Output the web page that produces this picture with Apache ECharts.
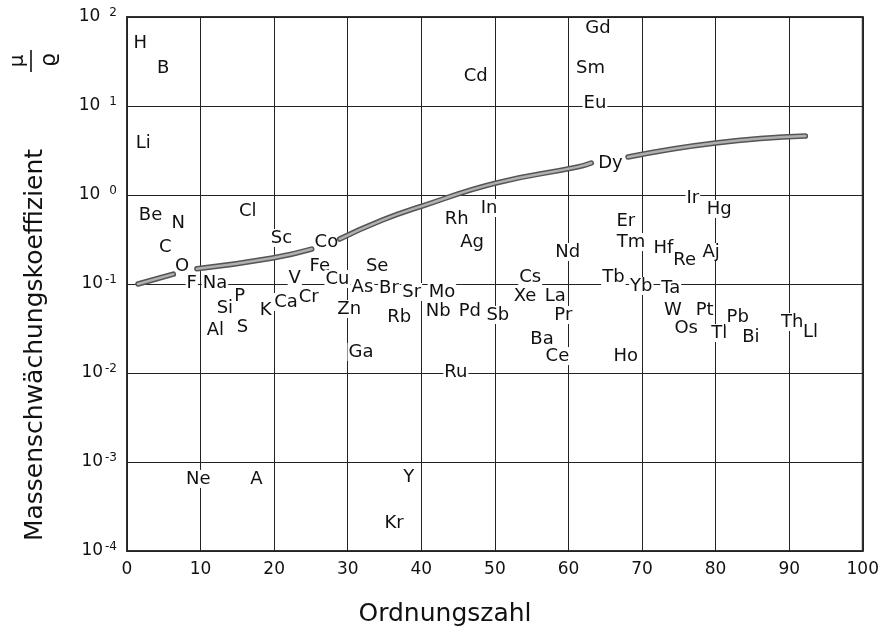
<!DOCTYPE html>
<html>
<head>
<meta charset="utf-8">
<script src="https://cdn.jsdelivr.net/npm/echarts@6/dist/echarts.min.js"></script>
<style>
  html, body { margin: 0; padding: 0; background: #fff; }
  #chart { width: 882px; height: 629px; }
</style>
</head>
<body>
<div id="chart"></div>
<script>
// Element symbols with their position on the Ordnungszahl axis and their mass attenuation value
const symbols = ['H', 'B', 'Li', 'Be', 'N', 'C', 'O', 'F', 'Na', 'P', 'Si', 'Al', 'S', 'K', 'Ca', 'Cr',
  'V', 'Fe', 'Cu', 'As', 'Se', 'Br', 'Zn', 'Ga', 'Cl', 'Sc', 'Co', 'Rh', 'In', 'Ag', 'Sr', 'Rb',
  'Mo', 'Nb', 'Pd', 'Sb', 'Cs', 'Xe', 'La', 'Pr', 'Ba', 'Ce', 'Nd', 'Ru', 'Er', 'Tm', 'Tb', 'Yb',
  'Ho', 'Hf', 'Ir', 'Hg', 'Re', 'Aj', 'Ta', 'W', 'Pt', 'Os', 'Tl', 'Pb', 'Bi', 'Th', 'Ll',
  'Gd', 'Sm', 'Eu', 'Dy', 'Cd', 'Ne', 'A', 'Y', 'Kr'];
const zPos = [1.8, 4.9, 2.2, 3.2, 6.95, 5.2, 7.5, 8.8, 11.95, 15.3, 13.3, 12.0, 15.7, 18.85, 21.6, 24.7,
  22.8, 26.2, 28.6, 32.0, 34.0, 35.6, 30.2, 31.8, 16.4, 21.0, 27.1, 44.8, 49.2, 46.9, 38.7, 37.0,
  42.8, 42.3, 46.6, 50.4, 54.8, 54.1, 58.2, 59.3, 56.4, 58.5, 59.9, 44.7, 67.8, 68.5, 66.1, 69.9,
  67.8, 72.9, 76.9, 80.5, 75.8, 79.4, 73.9, 74.2, 78.5, 76.0, 80.5, 83.0, 84.8, 90.4, 92.9,
  64.0, 63.0, 63.6, 65.7, 47.4, 9.7, 17.6, 38.3, 36.3];
const muValues = [51, 26.7, 3.84, 0.596, 0.484, 0.261, 0.159, 0.1026, 0.1026, 0.0733, 0.0537, 0.0304, 0.0329, 0.0511, 0.0628, 0.0715,
  0.1167, 0.159, 0.1138, 0.0925, 0.159, 0.0902, 0.0524, 0.0172, 0.66, 0.329, 0.296, 0.537, 0.714, 0.296, 0.0813, 0.0426,
  0.0813, 0.0498, 0.0498, 0.0449, 0.12, 0.0733, 0.0733, 0.0449, 0.0241, 0.0155, 0.229, 0.01026, 0.51, 0.296, 0.12, 0.095,
  0.0155, 0.2535, 0.925, 0.697, 0.186, 0.229, 0.0902, 0.0511, 0.0511, 0.0321, 0.0281, 0.0426, 0.0254, 0.0374, 0.0289,
  75.2, 26.7, 10.8, 2.29, 21.7, 6.46e-4, 6.46e-4, 6.78e-4, 2.07e-4];

// Trend curve; null marks a break where a label interrupts the line
const curveZ  = [1.5, 6.3, null, 9.5, 19.8, 25.1, null, 28.9, 34.7, 40.1, 50.1, 61.3, 63.1, null, 68.1, 80.0, 92.2];
const curveMu = [0.1, 0.129, null, 0.148, 0.196, 0.247, null, 0.32, 0.523, 0.75, 1.36, 2.07, 2.29, null, 2.67, 3.84, 4.6];

// Axis ticks
const xTicks = [0, 10, 20, 30, 40, 50, 60, 70, 80, 90, 100];
const yExponents = [-4, -3, -2, -1, 0, 1, 2];

const FONT = 'DejaVu Sans';
const INK = '#111';

// split the curve into segments at the null markers
const segments = [];
let cur = [];
curveZ.forEach((z, i) => {
  if (z === null) { if (cur.length) segments.push(cur); cur = []; }
  else cur.push([z, curveMu[i]]);
});
if (cur.length) segments.push(cur);

const curveSeries = [];
segments.forEach(seg => {
  curveSeries.push({
    type: 'line', data: seg, smooth: true, symbol: 'none', z: 5, silent: true,
    lineStyle: { color: '#555', width: 5.5, cap: 'round' }
  });
  curveSeries.push({
    type: 'line', data: seg, smooth: true, symbol: 'none', z: 6, silent: true,
    lineStyle: { color: '#b0b0b0', width: 2.5, cap: 'round' }
  });
});

const labelData = symbols.map((s, i) => [zPos[i], muValues[i], s]);

const chart = echarts.init(document.getElementById('chart'), null, { renderer: 'canvas' });
chart.setOption({
  animation: false,
  backgroundColor: '#fff',
  grid: {
    left: 127, right: 16, top: 17, bottom: 78,
    show: true, borderColor: '#333', borderWidth: 2, backgroundColor: 'transparent'
  },
  xAxis: {
    type: 'value', min: xTicks[0], max: xTicks[xTicks.length - 1], interval: 10,
    axisLine: { show: false }, axisTick: { show: false },
    splitLine: { show: true, lineStyle: { color: '#222', width: 1 } },
    axisLabel: { color: INK, fontFamily: FONT, fontSize: 17, margin: 10 }
  },
  yAxis: {
    type: 'log', logBase: 10,
    min: Math.pow(10, yExponents[0]), max: Math.pow(10, yExponents[yExponents.length - 1]),
    axisLine: { show: false }, axisTick: { show: false },
    splitLine: { show: true, lineStyle: { color: '#222', width: 1 } },
    axisLabel: {
      margin: 10,
      formatter: v => {
        const e = Math.round(Math.log10(v));
        return '{b|10}' + (e < 0 ? '{n|-' + Math.abs(e) + '}' : '{p|' + e + '}');
      },
      rich: {
        b: { color: INK, fontFamily: FONT, fontSize: 17 },
        n: { color: INK, fontFamily: FONT, fontSize: 12, padding: [0, 0, 9, 2] },
        p: { color: INK, fontFamily: FONT, fontSize: 12, padding: [0, 0, 9, 9] }
      }
    }
  },
  graphic: [
    {
      type: 'text', x: 35, y: 345, rotation: Math.PI / 2, z: 10,
      style: { text: 'Massenschwächungskoeffizient', font: '25px "DejaVu Sans"', fill: INK,
               textAlign: 'center', textVerticalAlign: 'middle' }
    },
    {
      type: 'text', x: 445, y: 614, z: 10,
      style: { text: 'Ordnungszahl', font: '25px "DejaVu Sans"', fill: INK,
               textAlign: 'center', textVerticalAlign: 'middle' }
    },
    {
      type: 'text', x: 18, y: 61, rotation: Math.PI / 2, z: 10,
      style: { text: 'μ', font: '20px "DejaVu Sans"', fill: INK,
               textAlign: 'center', textVerticalAlign: 'middle' }
    },
    {
      type: 'line', z: 10,
      shape: { x1: 31, y1: 50, x2: 31, y2: 72 },
      style: { stroke: INK, lineWidth: 1.6 }
    },
    {
      type: 'text', x: 49, y: 60, rotation: Math.PI / 2, z: 10,
      style: { text: 'ϱ', font: '22px "DejaVu Sans"', fill: INK,
               textAlign: 'center', textVerticalAlign: 'middle' }
    }
  ],
  series: [
    {
      type: 'scatter', data: labelData, symbolSize: 0, z: 4, silent: true,
      itemStyle: { color: '#111' },
      label: {
        show: true, position: 'inside', formatter: p => p.data[2],
        color: INK, fontFamily: FONT, fontSize: 18, opacity: 1,
        textBorderWidth: 0, textBorderColor: 'transparent',
        backgroundColor: '#fff', padding: [0, 1]
      }
    }
  ].concat(curveSeries)
});
</script>
</body>
</html>
